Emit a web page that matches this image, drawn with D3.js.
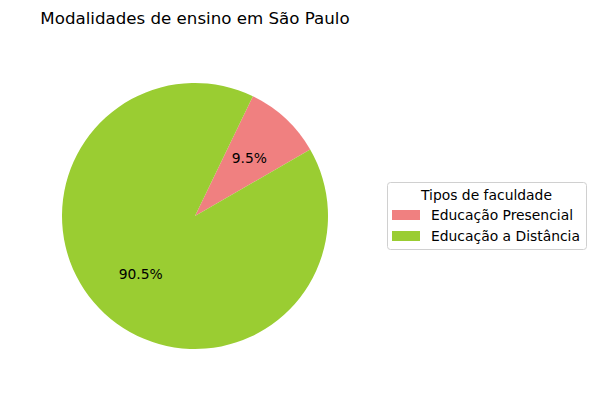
<!DOCTYPE html>
<html><head><meta charset="utf-8">
<script src="https://cdn.jsdelivr.net/npm/d3@7"></script>
<style>body{margin:0;background:#fff}svg{display:block}text{font-family:"DejaVu Sans",sans-serif}</style>
</head><body>
<script>
const categories = ["Educação Presencial", "Educação a Distância"];
const values = [9.5, 90.5];
const colors = ["#f08080", "#9acd32"];
const title = "Modalidades de ensino em São Paulo";
const legendTitle = "Tipos de faculdade";

const W = 596, H = 411;
const cx = 195, cy = 216, R = 133;
const startDeg = 30;
const fs = 13.89, fsTitle = 16.67;

const svg = d3.select("body").append("svg").attr("width", W).attr("height", H);

svg.append("text").attr("x", cx).attr("y", 24).attr("text-anchor", "middle")
  .attr("font-size", fsTitle).attr("fill", "#000").text(title);

const startRad = (90 - startDeg) * Math.PI / 180;
const pie = d3.pie().sort(null).value(d => d)
  .startAngle(startRad).endAngle(startRad - 2 * Math.PI);
const arcs = pie(values);
const arc = d3.arc().innerRadius(0).outerRadius(R);

const g = svg.append("g").attr("transform", `translate(${cx},${cy})`);
g.selectAll("path").data(arcs).enter().append("path")
  .attr("d", arc).attr("fill", (d, i) => colors[i]);
const total = d3.sum(values);
g.selectAll("text.lbl").data(arcs).enter().append("text").attr("class", "lbl")
  .attr("transform", d => {
    const a = (d.startAngle + d.endAngle) / 2;
    return `translate(${R * 0.6 * Math.sin(a)},${-R * 0.6 * Math.cos(a)})`;
  })
  .attr("text-anchor", "middle").attr("dominant-baseline", "central")
  .attr("font-size", fs).attr("fill", "#000")
  .text(d => (d.value / total * 100).toFixed(1) + "%");

// legend
const lg = svg.append("g");
lg.append("rect").attr("x", 387.5).attr("y", 182.5).attr("width", 199).attr("height", 67)
  .attr("rx", 3).attr("fill", "#fff").attr("stroke", "#d0d0d0").attr("stroke-width", 1);
lg.append("text").attr("x", 486.5).attr("y", 200).attr("text-anchor", "middle")
  .attr("font-size", fs).attr("fill", "#000").text(legendTitle);
const ly = d3.scaleBand().domain(categories).range([207, 249]);
categories.forEach((c, i) => {
  const y0 = ly(c);
  lg.append("rect").attr("x", 392).attr("y", y0 + 3).attr("width", 28).attr("height", 10)
    .attr("fill", colors[i]);
  lg.append("text").attr("x", 431).attr("y", y0 + 8).attr("dominant-baseline", "central")
    .attr("font-size", fs).attr("fill", "#000").text(c);
});
</script>
</body></html>
